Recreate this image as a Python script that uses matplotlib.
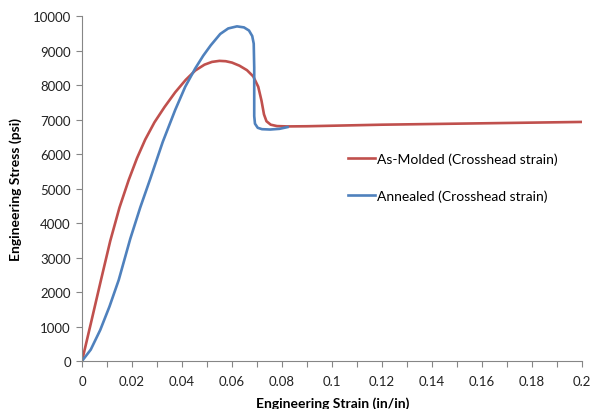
import numpy as np
import matplotlib.pyplot as plt
from matplotlib.ticker import MultipleLocator

plt.rcParams['font.family'] = ['Lato', 'DejaVu Sans']

# As-Molded (Crosshead strain)
red_x = [0, 0.0038, 0.0076, 0.0113, 0.015, 0.0187, 0.022, 0.0253, 0.029, 0.033, 0.0373,
         0.0415, 0.0453, 0.049, 0.052, 0.055, 0.0575, 0.06, 0.063, 0.066, 0.0685, 0.0705,
         0.0718, 0.0728, 0.0738, 0.0755, 0.078, 0.082, 0.09, 0.1, 0.12, 0.14, 0.16, 0.18, 0.2]
red_y = [0, 1170, 2350, 3480, 4450, 5250, 5880, 6420, 6920, 7360, 7790,
         8150, 8420, 8590, 8670, 8700, 8690, 8650, 8560, 8430, 8250, 7950,
         7550, 7150, 6950, 6850, 6810, 6800, 6805, 6820, 6850, 6870, 6890, 6910, 6930]

# Annealed (Crosshead strain)
blue_x = [0, 0.0035, 0.0073, 0.011, 0.0147, 0.0193, 0.0233, 0.0273, 0.0323, 0.0373,
          0.0413, 0.0453, 0.0485, 0.0515, 0.0553, 0.0585, 0.062, 0.0648, 0.0668,
          0.0681, 0.0687, 0.0689, 0.0689, 0.0692, 0.0703, 0.072, 0.0753, 0.079, 0.0822]
blue_y = [0, 330, 900, 1580, 2350, 3540, 4450, 5280, 6350, 7280,
          7950, 8480, 8850, 9150, 9480, 9640, 9700, 9670, 9580,
          9420, 9200, 8500, 7100, 6880, 6760, 6720, 6710, 6730, 6780]

fig = plt.figure(figsize=(5.92, 4.10), dpi=100)
ax = fig.add_axes([0.1385, 0.117, 0.8445, 0.8415])

ax.plot(red_x, red_y, color='#C0504D', lw=1.9, label='As-Molded (Crosshead strain)',
        solid_joinstyle='round')
ax.plot(blue_x, blue_y, color='#4F81BD', lw=1.9, label='Annealed (Crosshead strain)',
        solid_joinstyle='round')

ax.set_xlim(0, 0.2)
ax.set_ylim(0, 10000)
ax.xaxis.set_minor_locator(MultipleLocator(0.01))
ax.yaxis.set_major_locator(MultipleLocator(1000))
ax.set_xticks(np.arange(0, 0.201, 0.02))
ax.set_xticklabels(['0', '0.02', '0.04', '0.06', '0.08', '0.1', '0.12', '0.14', '0.16', '0.18', '0.2'])

for s in ['top', 'right']:
    ax.spines[s].set_visible(False)
for s in ['left', 'bottom']:
    ax.spines[s].set_color('#868686')
    ax.spines[s].set_linewidth(0.8)
ax.tick_params(which='both', direction='out', length=4, width=0.8, color='#868686',
               labelsize=9.5, labelcolor='#222222')
ax.tick_params(axis='x', pad=6)
ax.tick_params(axis='y', pad=4)

ax.set_ylabel('Engineering Stress (psi)', fontsize=10, fontweight='bold', labelpad=8)
fig.text(0.5625, 0.004, 'Engineering Strain (in/in)', fontsize=10, fontweight='bold',
         ha='center', va='baseline')

ax.legend(loc='upper left', bbox_to_anchor=(0.52, 0.62), frameon=False, fontsize=10,
          handlelength=2.0, handletextpad=0.15, labelspacing=1.75, borderaxespad=0)

fig.savefig('out.png', dpi=100)
